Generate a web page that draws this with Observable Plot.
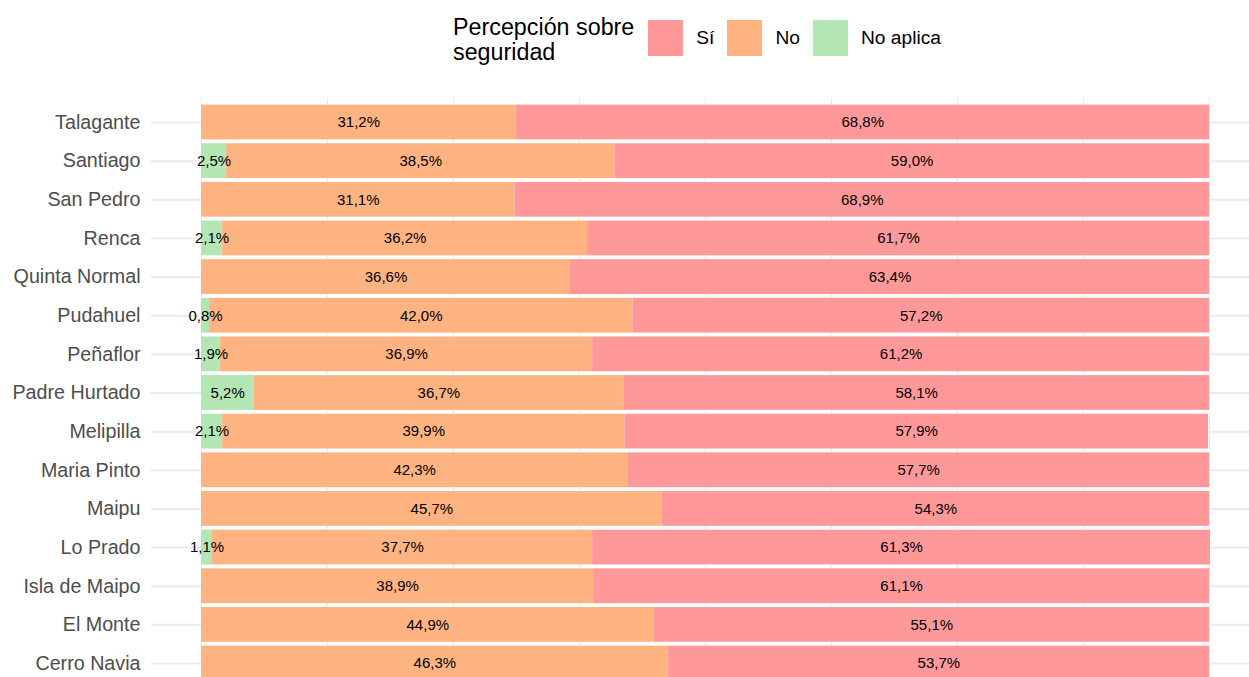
<!DOCTYPE html>
<html>
<head>
<meta charset="utf-8">
<script src="https://cdn.jsdelivr.net/npm/d3@7"></script>
<script src="https://cdn.jsdelivr.net/npm/@observablehq/plot@0.6"></script>
<style>
  html, body { margin: 0; padding: 0; background: #fff; overflow: hidden; }
  body { font-family: "Liberation Sans", Arial, sans-serif; width: 1249px; height: 677px; }
  #legend { position: relative; height: 80px; width: 1249px; }
  #legend .row { position: absolute; left: 453px; top: 20px; height: 36px; display: flex; align-items: center; }
  #legend .title { font-size: 23.3px; line-height: 25px; color: #000; margin-right: 14px; position: relative; top: 2px; }
  #legend .key { width: 35px; height: 36px; }
  #legend .lab { font-size: 19.2px; color: #000; margin-left: 13px; margin-right: 13px; }
</style>
</head>
<body>
<div id="legend"></div>
<div id="chart"></div>
<script>
const comunas = ["Talagante","Santiago","San Pedro","Renca","Quinta Normal","Pudahuel","Peñaflor","Padre Hurtado","Melipilla","Maria Pinto","Maipu","Lo Prado","Isla de Maipo","El Monte","Cerro Navia"];
const noAplica = [0, 2.5, 0, 2.1, 0, 0.8, 1.9, 5.2, 2.1, 0, 0, 1.1, 0, 0, 0];
const no = [31.2, 38.5, 31.1, 36.2, 36.6, 42.0, 36.9, 36.7, 39.9, 42.3, 45.7, 37.7, 38.9, 44.9, 46.3];
const si = [68.8, 59.0, 68.9, 61.7, 63.4, 57.2, 61.2, 58.1, 57.9, 57.7, 54.3, 61.3, 61.1, 55.1, 53.7];
const categories = ["Sí", "No", "No aplica"];
const colors = ["#FF9999", "#FFB380", "#B3E6B3"];
const stackOrder = ["No aplica", "No", "Sí"];
const gridTicks = [0, 12.5, 25, 37.5, 50, 62.5, 75, 87.5, 100];
const legendTitle = ["Percepción sobre", "seguridad"];

const rows = [];
comunas.forEach((c, i) => {
  rows.push({comuna: c, cat: "No aplica", value: noAplica[i]});
  rows.push({comuna: c, cat: "No", value: no[i]});
  rows.push({comuna: c, cat: "Sí", value: si[i]});
});
const labelRows = rows.filter(d => d.value > 0);
const fmt = v => v.toFixed(1).replace(".", ",") + "%";

// Legend (HTML above the SVG)
const legend = document.getElementById("legend");
const row = document.createElement("div");
row.className = "row";
const t = document.createElement("div");
t.className = "title";
t.innerHTML = legendTitle.join("<br>");
row.appendChild(t);
categories.forEach((c, i) => {
  const k = document.createElement("div");
  k.className = "key";
  k.style.background = colors[i];
  row.appendChild(k);
  const l = document.createElement("div");
  l.className = "lab";
  l.textContent = c;
  row.appendChild(l);
});
legend.appendChild(row);

const chart = Plot.plot({
  width: 1249,
  height: 607,
  marginLeft: 201,
  marginRight: 40,
  marginTop: 18,
  marginBottom: 0,
  style: {fontFamily: "'Liberation Sans', Arial, sans-serif", background: "#fff"},
  x: {domain: [0, 100], axis: null},
  y: {domain: comunas, paddingInner: 0.1, paddingOuter: 0.171, align: 0.5, round: false},
  color: {domain: categories, range: colors, legend: false},
  marks: [
    Plot.gridX(gridTicks, {stroke: "#ebebeb", strokeOpacity: 1, strokeWidth: 1}),
    Plot.axisY({anchor: "left", tickSize: 50, tickPadding: 11, stroke: "#ebebeb", strokeWidth: 2, fill: "#4d4d4d", fontSize: 19.7, label: null}),
    Plot.axisY({anchor: "right", tickSize: 40, tickFormat: () => "", stroke: "#ebebeb", strokeWidth: 2, label: null}),
    Plot.barX(rows, Plot.stackX({x: "value", y: "comuna", fill: "cat", z: "cat", order: stackOrder})),
    Plot.text(labelRows, Plot.stackX({x: "value", y: "comuna", z: "cat", order: stackOrder, text: d => fmt(d.value), fill: "#000", fontSize: 15}))
  ]
});
document.getElementById("chart").appendChild(chart);
</script>
</body>
</html>
